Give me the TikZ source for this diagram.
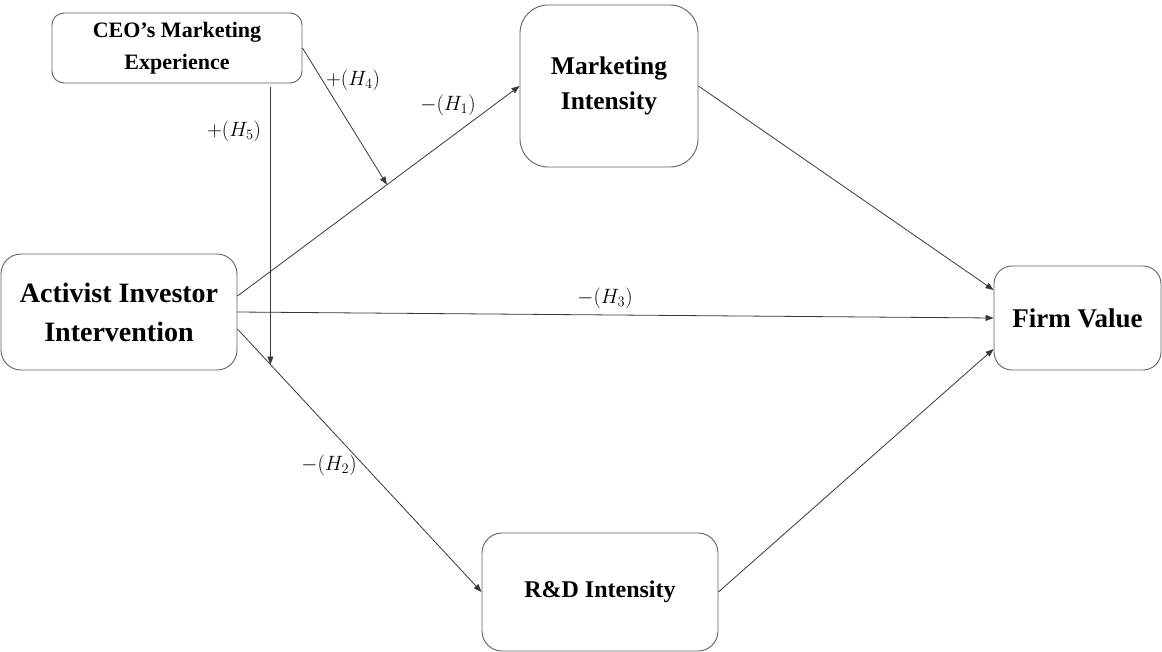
\documentclass[tikz,border=0pt]{standalone}
\usepackage{fontspec}
\setmainfont{Liberation Serif}
\usetikzlibrary{arrows.meta,calc}
\begin{document}
\begin{tikzpicture}[x=1pt,y=-1pt,
  box/.style={draw=black!62,line width=0.9pt,align=center,inner sep=0pt,anchor=center},
  conn/.style={draw=black!78,line width=0.8pt,-{Triangle[length=8pt,width=6pt]}},
  lab/.style={font=\fontsize{22}{26}\selectfont,inner sep=0pt}]
\useasboundingbox (0,0) rectangle (1162,651);
\node[box,minimum width=250pt,minimum height=70pt,rounded corners=12pt,font=\bfseries\fontsize{22}{32}\selectfont] (ceo) at (177,48) {CEO’s Marketing\\Experience};
\node[box,minimum width=178pt,minimum height=162pt,rounded corners=28pt,font=\bfseries\fontsize{25.5}{35}\selectfont] (mi) at (609,86) {Marketing\\Intensity};
\node[box,minimum width=236pt,minimum height=116pt,rounded corners=20pt,font=\bfseries\fontsize{28}{39}\selectfont] (ai) at (119,312) {Activist Investor\\Intervention};
\node[box,minimum width=167pt,minimum height=104pt,rounded corners=18pt,font=\bfseries\fontsize{27}{32}\selectfont] (fv) at (1077.5,318) {Firm Value};
\node[box,minimum width=236pt,minimum height=118pt,rounded corners=20pt,font=\bfseries\fontsize{24}{30}\selectfont] (rd) at (600,592) {R\&D Intensity};
\coordinate (a1) at ([yshift=16pt]ai.east);
\coordinate (a3) at ([yshift=-17pt]ai.east);
\draw[conn] (a1) -- (mi.west);
\draw[conn] (ai.east) -- (fv.west);
\draw[conn] (a3) -- (rd.west);
\draw[conn] (mi.east) -- ([yshift=28pt]fv.west);
\draw[conn] (rd.east) -- ([yshift=-31pt]fv.west);
\coordinate (h4) at ($(a1)!0.53!(mi.west)$);
\coordinate (h5) at ($(a3)!0.135!(rd.west)$);
\coordinate (h5top) at ([yshift=-4pt]h5 |- ceo.south);
\draw[conn] (ceo.east) -- (h4);
\draw[conn] (h5top) -- (h5);
\node[lab] (l4) at (353,80) {$+(H_4)$};
\node[lab] (l5) at (234,131) {$+(H_5)$};
\node[lab] (l1) at (448,105) {$-(H_1)$};
\node[lab] (l3) at (605,298) {$-(H_3)$};
\node[lab] (l2) at (329,465) {$-(H_2)$};
\end{tikzpicture}
\end{document}
